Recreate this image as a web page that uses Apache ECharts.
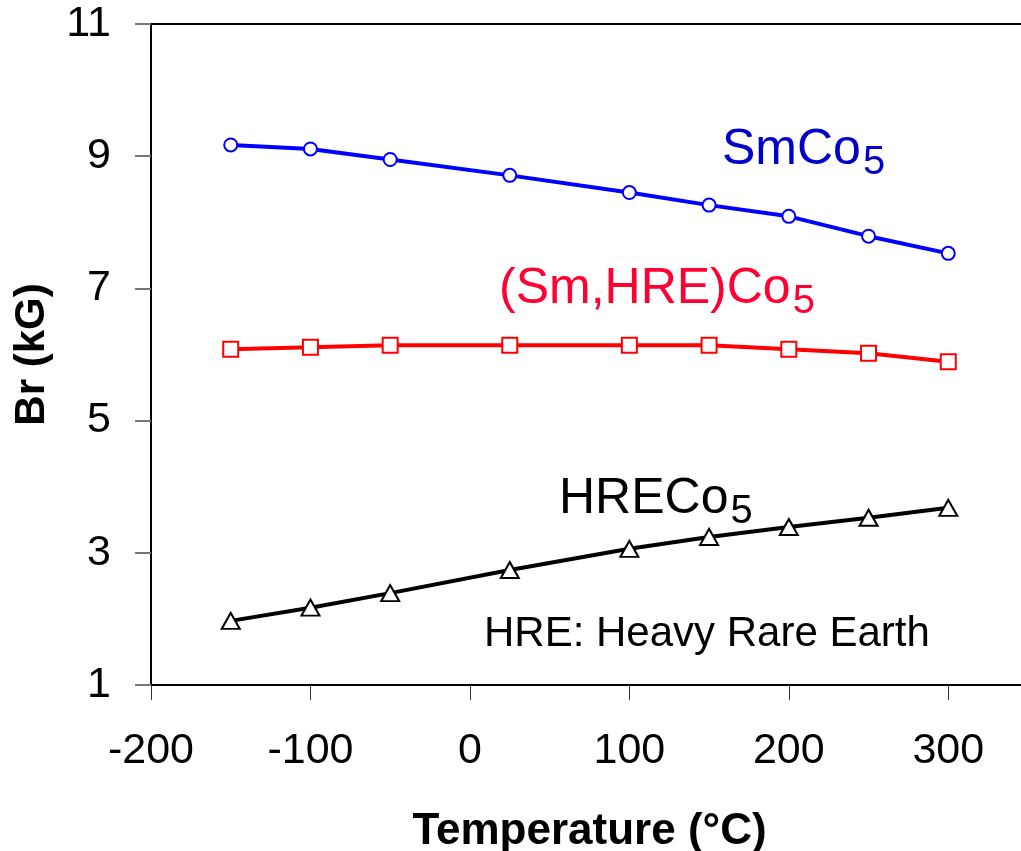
<!DOCTYPE html>
<html>
<head>
<meta charset="utf-8">
<script src="https://cdn.jsdelivr.net/npm/echarts@6/dist/echarts.min.js"></script>
<style>
  html, body { margin: 0; padding: 0; background: #fff; }
  #chart { width: 1021px; height: 851px; }
</style>
</head>
<body>
<div id="chart"></div>
<script>
// Temperature (°C) at which remanence was measured
const temperatures = [-150, -100, -50, 25, 100, 150, 200, 250, 300];
// Remanence Br (kG) for each alloy
const smco5 = [9.17, 9.11, 8.95, 8.71, 8.45, 8.26, 8.09, 7.79, 7.53];
const smHreCo5 = [6.08, 6.11, 6.14, 6.14, 6.14, 6.14, 6.08, 6.02, 5.89];
const hreCo5 = [1.97, 2.17, 2.39, 2.74, 3.06, 3.24, 3.39, 3.53, 3.68];

const pairs = (ys) => temperatures.map((t, i) => [t, ys[i]]);

const FONT = '"Liberation Sans", Arial, sans-serif';
const chart = echarts.init(document.getElementById('chart'));

// formula label: main text plus a lowered subscript
const formula = (main, sub, color, left, top) => ({
  type: 'text', left, top,
  style: {
    text: '{m|' + main + '}{s|' + sub + '}', fill: color,
    rich: {
      m: { fontFamily: FONT, fontSize: 50, fill: color, lineHeight: 56 },
      s: { fontFamily: FONT, fontSize: 40, fill: color, lineHeight: 56, padding: [26, 0, 0, 2] }
    }
  }
});

chart.setOption({
  backgroundColor: '#fff',
  animation: false,
  grid: {
    left: 151, top: 24, width: 877, height: 661,
    outerBoundsMode: 'none', containLabel: false,
    show: true, borderColor: '#000', borderWidth: 2, backgroundColor: 'transparent'
  },
  xAxis: {
    type: 'value', min: -200, max: 350, interval: 100,
    axisLine: { onZero: false, lineStyle: { color: '#000', width: 2 } },
    axisTick: { length: 15, lineStyle: { color: '#333', width: 1 } },
    splitLine: { show: false },
    axisLabel: {
      fontFamily: FONT, fontSize: 43, color: '#000', margin: 45,
      formatter: (v) => (v > 300 ? '' : String(v))
    },
    name: 'Temperature (°C)', nameLocation: 'middle', nameGap: 125,
    nameTextStyle: { fontFamily: FONT, fontSize: 44, fontWeight: 'bold', color: '#000' }
  },
  yAxis: {
    type: 'value', min: 1, max: 11, interval: 2,
    axisLine: { onZero: false, lineStyle: { color: '#000', width: 2 } },
    axisTick: { length: 16, lineStyle: { color: '#777', width: 2 } },
    splitLine: { show: false },
    axisLabel: { fontFamily: FONT, fontSize: 43, color: '#000', margin: 40 },
    name: 'Br (kG)', nameLocation: 'middle', nameGap: 98,
    nameTextStyle: { fontFamily: FONT, fontSize: 42, fontWeight: 'bold', color: '#000' }
  },
  series: [
    {
      name: 'SmCo5', type: 'line', data: pairs(smco5),
      symbol: 'circle', symbolSize: 13,
      lineStyle: { color: '#0000ff', width: 4 },
      itemStyle: { color: '#fff', borderColor: '#0000ff', borderWidth: 2 }
    },
    {
      name: '(Sm,HRE)Co5', type: 'line', data: pairs(smHreCo5),
      symbol: 'rect', symbolSize: 15,
      lineStyle: { color: '#ff0000', width: 4 },
      itemStyle: { color: '#fff', borderColor: '#ff0000', borderWidth: 2 }
    },
    {
      name: 'HRECo5', type: 'line', data: pairs(hreCo5),
      symbol: 'triangle', symbolSize: [18, 16],
      lineStyle: { color: '#000', width: 4 },
      itemStyle: { color: '#fff', borderColor: '#000', borderWidth: 2 }
    }
  ],
  graphic: [
    formula('SmCo', '5', '#0000cc', 722, 117),
    formula('(Sm,HRE)Co', '5', '#ff0033', 499, 256),
    formula('HRECo', '5', '#000', 559, 466),
    {
      type: 'text', left: 484, top: 613,
      style: { text: 'HRE: Heavy Rare Earth', fill: '#000', font: '42px ' + FONT }
    }
  ]
});
</script>
</body>
</html>
